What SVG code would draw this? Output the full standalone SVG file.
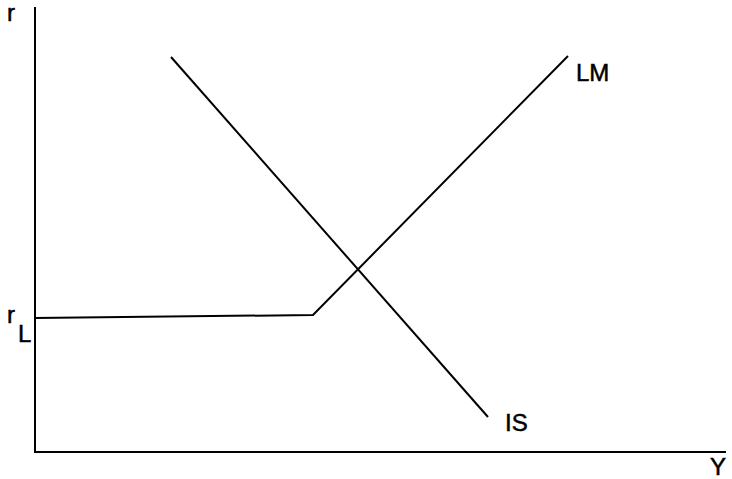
<svg xmlns="http://www.w3.org/2000/svg" width="732" height="479" viewBox="0 0 732 479">
<style>
.ln{fill:none;stroke:#000;stroke-width:2;stroke-linejoin:miter}
.t{font-family:"Liberation Sans",Arial,sans-serif;font-size:24px;fill:#000;stroke:#000;stroke-width:0.5}
</style>
<rect width="732" height="479" fill="#fff"/>
<g id="axes">
<line class="ln" x1="35" y1="7" x2="35" y2="453" stroke-width="2.5"/>
<line class="ln" x1="35" y1="452" x2="726" y2="452"/>
</g>
<g id="connectors">
<polyline id="LM-curve" class="ln" points="35,318 313,315 568,56"/>
<line id="IS-curve" class="ln" x1="171" y1="57" x2="488" y2="417"/>
</g>
<g id="labels">
<text class="t" x="7" y="21">r</text>
<text class="t" x="7" y="323">r</text>
<text class="t" x="18" y="342">L</text>
<text class="t" x="576" y="81">LM</text>
<text class="t" x="505" y="431">IS</text>
<text class="t" x="710" y="475">Y</text>
</g>
</svg>
